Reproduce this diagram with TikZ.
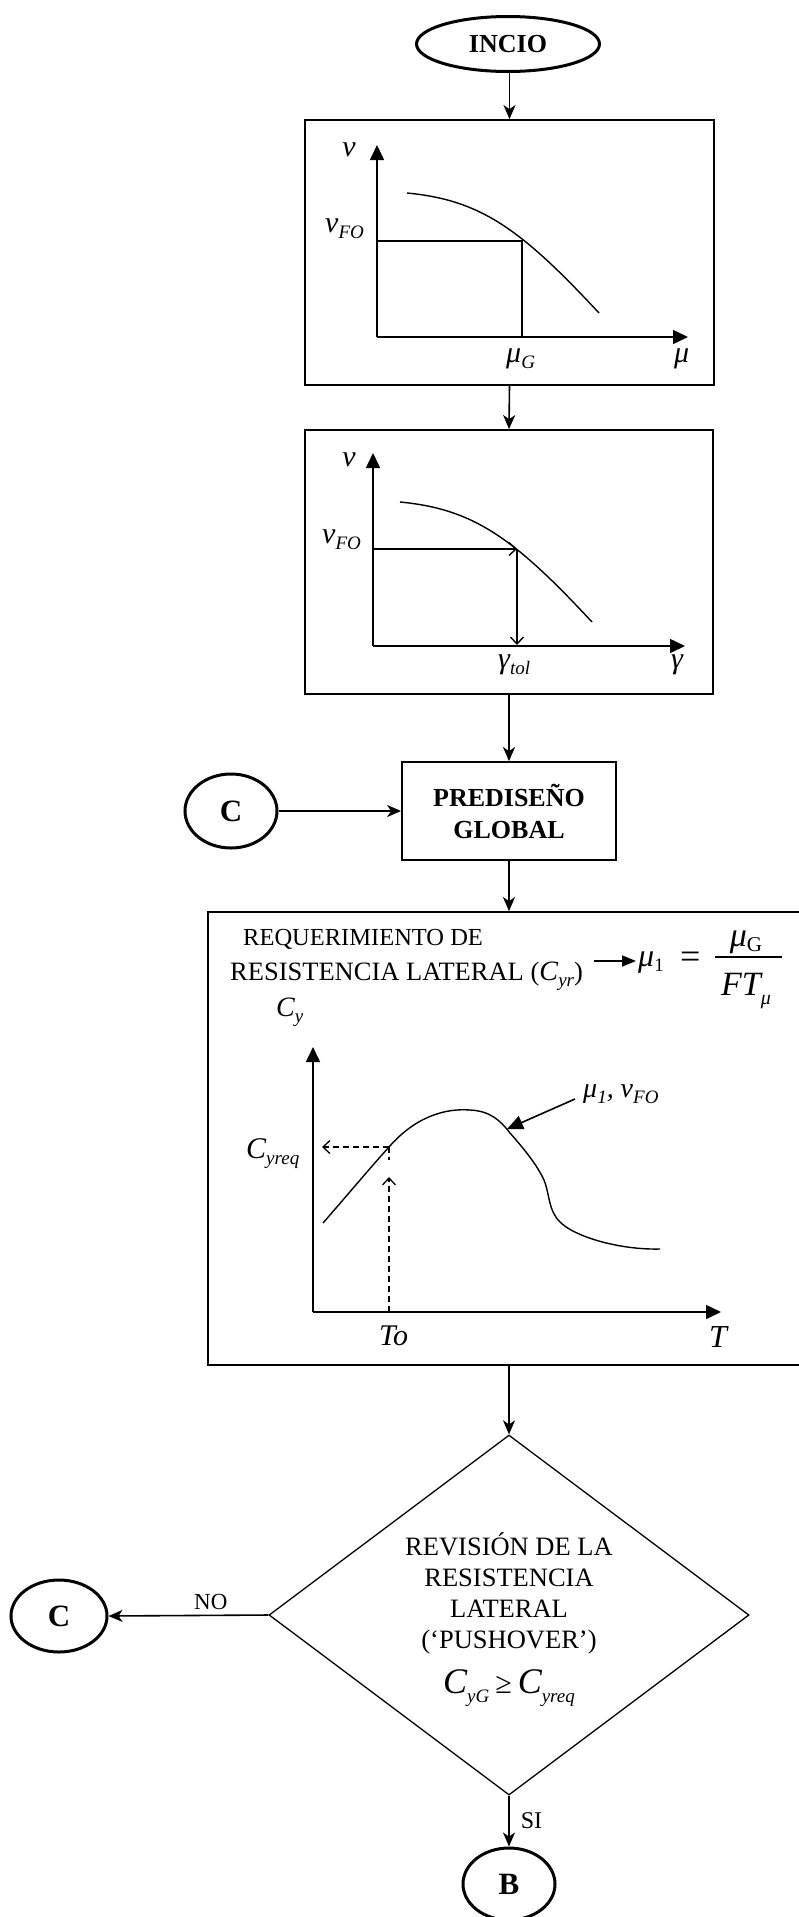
\documentclass[tikz,border=0pt]{standalone}
\usepackage{fontspec}
\setmainfont{Liberation Serif}
\usetikzlibrary{arrows.meta,shapes.geometric}
\newcommand{\fsz}[1]{\fontsize{#1}{#1}\selectfont}
\newcommand{\lsub}[1]{\raisebox{-6pt}{\fsz{19}#1}}
\begin{document}
\begin{tikzpicture}[x=1pt,y=-1pt,
 flbox/.style={draw,line width=1.8pt,inner sep=0pt},
 flterm/.style={draw,ellipse,line width=3pt,inner sep=0pt,font=\bfseries\fsz{31}},
 flconn/.style={line width=1.6pt,-{Stealth[length=14pt,width=12pt,inset=4pt]}},
 flaxis/.style={line width=1.6pt,-{Triangle[length=15pt,width=14pt]}},
 flcurve/.style={line width=1.4pt},
 flbarb/.style={line width=1.4pt,-{Straight Barb[length=7pt,width=13pt]}},
 fldash/.style={line width=1.3pt,dash pattern=on 6pt off 4pt},
 fllab/.style={inner sep=0pt,font=\itshape\fsz{30}},
 fltext/.style={inner sep=0pt,font=\fsz{26.5}},
]
\useasboundingbox (0,0) rectangle (798,1917);

% ---- nodes of the flow ----
\node[flterm,minimum width=183pt,minimum height=55pt,font=\bfseries\fsz{26}] (ini) at (508,44) {INCIO};
\node[flbox,minimum width=409pt,minimum height=265pt] (b1) at (509.5,252.5) {};
\node[flbox,minimum width=408pt,minimum height=264pt] (b2) at (509,562) {};
\node[flbox,minimum width=214pt,minimum height=98pt,align=center,
      font=\bfseries\fontsize{26}{32}\selectfont] (pre) at (509,811) {PREDISEÑO\\GLOBAL};
\node[flterm,minimum width=92pt,minimum height=74pt] (c1) at (231,811) {C};
\node[flbox,minimum width=597pt,minimum height=453pt] (b3) at (506.5,1138.5) {};
\node[draw,diamond,line width=1.3pt,inner sep=0pt,aspect=1.333,
      minimum width=480pt,minimum height=360pt] (rev) at (509,1615) {};
\node[flterm,minimum width=96pt,minimum height=72pt] (c2) at (59,1616) {C};
\node[flterm,minimum width=92pt,minimum height=72pt] (bb) at (509,1884) {B};

% ---- connectors ----
\draw[flconn] (b1.north |- ini.south) -- (b1.north);
\draw[flconn] (b1.south) -- (b2.north);
\draw[flconn] (b2.south) -- (pre.north);
\draw[flconn] (c1.east) -- (pre.west);
\draw[flconn] (pre.south) -- (pre.south |- b3.north);
\draw[flconn] (rev.north |- b3.south) -- (rev.north);
\draw[flconn] (rev.west) -- (c2.east) node[pos=0.36,above=5pt,fltext,font=\fsz{23}] (no) {NO};
\draw[flconn] (rev.south) -- (bb.north) node[midway,right=11pt,fltext,font=\fsz{24}] (si) {SI};

% ---- graph 1 ----
\draw[flaxis] (377,337) -- (377,145);
\draw[flaxis] (377,337) -- (688,337);
\draw[flcurve] (377,241) -- (522,241) -- (522,337);
\draw[flcurve] (407,193) .. controls (480,200) and (520,228) .. (599,313);
\node[fllab] (nu1) at (349,150) {ν};
\node[fllab,anchor=base west] (nufo1) at (325,232) {ν\lsub{FO}};
\node[fllab,anchor=base west] (mug) at (506,362) {μ\lsub{G}};
\node[fllab,anchor=base west] (mu) at (674,362) {μ};

% ---- graph 2 ----
\draw[flaxis] (373,646) -- (373,453);
\draw[flaxis] (373,646) -- (685,646);
\draw[flbarb] (373,549) -- (517,549);
\draw[flbarb] (517,549) -- (517,645);
\draw[flcurve] (400,502) .. controls (473,509) and (513,537) .. (592,622);
\node[fllab] (nu2) at (349,460) {ν};
\node[fllab,anchor=base west] (nufo2) at (322,543) {ν\lsub{FO}};
\node[fllab,anchor=base west] (gtol) at (498,668) {γ\lsub{tol}};
\node[fllab,anchor=base west] (gam) at (671,668) {γ};

% ---- box 3 ----
\node[fltext,anchor=base west,font=\fsz{24.5}] (req1) at (243,945) {REQUERIMIENTO DE};
\node[fltext,anchor=base west] (req2) at (230,980) {RESISTENCIA LATERAL (\textit{\fsz{28}C}\lsub{\itshape yr})};
\coordinate (ra) at (594,961);
\coordinate (rb) at (636,961);
\draw[line width=1.6pt,-{Triangle[length=14pt,width=11pt]}] (ra) -- (rb);
\node[inner sep=0pt,anchor=base west,font=\itshape\fsz{32}] (mu1) at (638,966) {μ\raisebox{-5pt}{\upshape\fsz{19}1}};
\node[inner sep=0pt,anchor=base west,font=\fsz{36}] (eq) at (680,968) {=};
\node[inner sep=0pt,anchor=base,font=\itshape\fsz{34}] (num) at (746,946) {μ\raisebox{-5pt}{\upshape\fsz{21}G}};
\coordinate (fa) at (715,957);
\coordinate (fb) at (782,957);
\draw[line width=1.1pt] (fa) -- (fb);
\node[inner sep=0pt,anchor=base,font=\itshape\fsz{34}] (den) at (746,995) {FT\raisebox{-9pt}{\fsz{20}μ}};

\node[fllab,anchor=base west,font=\itshape\fsz{28}] (cy) at (276,1016) {C\lsub{y}};
\draw[flaxis] (313,1312) -- (313,1047);
\draw[flaxis] (313,1312) -- (721,1312);
\draw[flcurve] (323,1223) .. controls (350,1192) and (370,1168) .. (389,1147)
  .. controls (415,1117) and (445,1108) .. (470,1110)
  .. controls (490,1111) and (500,1120) .. (510,1133)
  .. controls (525,1150) and (537,1165) .. (544,1180)
  .. controls (550,1195) and (548,1210) .. (560,1222)
  .. controls (575,1237) and (620,1250) .. (660,1249);
\draw[fldash,-{Straight Barb[length=7pt,width=13pt]}] (389,1147) -- (322,1147);
\draw[fldash] (389,1147) -- (389,1160);
\draw[fldash,-{Straight Barb[length=7pt,width=13pt]}] (389,1312) -- (389,1177);
\node[fllab,anchor=base west] (cyreq) at (246,1158) {C\lsub{yreq}};
\node[fllab,anchor=base west] (to) at (379,1345) {To};
\node[fllab,anchor=base west,font=\itshape\fsz{32}] (tt) at (709,1347) {T};
\coordinate (ma) at (575,1099);
\coordinate (mb) at (507,1129);
\draw[line width=1.6pt,-{Triangle[length=16pt,width=14pt]}] (ma) -- (mb);
\node[fllab,anchor=base west,font=\itshape\fsz{28}] (mn) at (583,1097) {μ\lsub{1},~ν\lsub{FO}};

% ---- decision text ----
\node[fltext,anchor=base] (d1) at (509,1555) {REVISIÓN DE LA};
\node[fltext,anchor=base] (d2) at (509,1586) {RESISTENCIA};
\node[fltext,anchor=base] (d3) at (509,1617) {LATERAL};
\node[fltext,anchor=base] (d4) at (509,1648) {(‘PUSHOVER’)};
\node[inner sep=0pt,anchor=base] (d5) at (509,1693)
  {\fsz{36}\itshape C\raisebox{-9pt}{\fsz{19}yG}\hspace{6pt}\upshape\fsz{30}≥\hspace{6pt}\fsz{36}\itshape C\raisebox{-9pt}{\fsz{19}yreq}};
\end{tikzpicture}
\end{document}
